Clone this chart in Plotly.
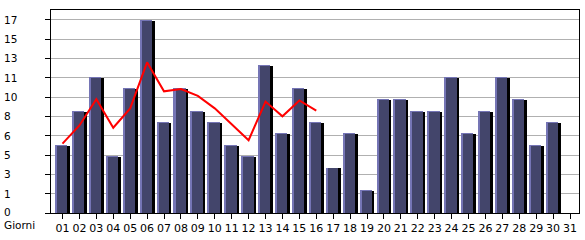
import plotly.graph_objects as go

days = ["01","02","03","04","05","06","07","08","09","10","11","12","13","14","15","16",
        "17","18","19","20","21","22","23","24","25","26","27","28","29","30","31"]
visits = [6, 9, 12, 5, 11, 17, 8, 11, 9, 8, 6, 5, 13, 7, 11, 8,
          4, 7, 2, 10, 10, 9, 9, 12, 7, 9, 12, 10, 6, 8, 0]
trend_days = days[:16]
trend = [6.1, 7.7, 10.0, 7.5, 9.2, 13.25, 10.7, 10.9, 10.3, 9.2, 7.8, 6.4, 9.8, 8.5, 9.9, 9.0]
y_tick_labels = ["0", "1", "3", "5", "6", "8", "10", "11", "13", "15", "17"]
y_tick_step = 1.7
x_title = "Giorni"

xs = list(range(1, len(days) + 1))
xt = [xs[days.index(d)] for d in trend_days]
yticks = [i * y_tick_step for i in range(len(y_tick_labels))]

FONT = "DejaVu Sans"
px = 17.85 / 210.0  # data units per pixel vertically

fig = go.Figure()
# black shadow
fig.add_trace(go.Bar(x=xs, y=[max(v - px, 0) for v in visits], width=0.74, offset=-0.30,
                     marker=dict(color="#000000", line=dict(width=0)), showlegend=False,
                     hoverinfo="skip"))
# lavender highlight
fig.add_trace(go.Bar(x=xs, y=visits, width=0.73, offset=-0.44,
                     marker=dict(color="#7575b5", line=dict(width=0)), showlegend=False))
# dark body
fig.add_trace(go.Bar(x=xs, y=[max(v - px, 0) for v in visits], width=0.61, offset=-0.32,
                     marker=dict(color="#43456b", line=dict(width=0)), showlegend=False,
                     hoverinfo="skip"))
fig.add_trace(go.Scatter(x=xt, y=trend, mode="lines",
                         line=dict(color="#ff0000", width=2), showlegend=False))

W, H = 585, 240
ml, mr, mt, mb = 51, 5, 10, 20
pw = W - ml - mr
ph = H - mt - mb

annotations = []
for v, t in zip(yticks, y_tick_labels):
    annotations.append(dict(x=(2 - ml) / pw, xref="paper", y=v, yref="y", text=t,
                            showarrow=False, xanchor="left", yanchor="middle",
                            yshift=1.5 if v == 0 else 0,
                            font=dict(family=FONT, size=10.5, color="#000")))
annotations.append(dict(x=(2 - ml) / pw, xref="paper", y=-(232.5 - (mt + ph)) / ph, yref="paper",
                        text=x_title, showarrow=False, xanchor="left", yanchor="middle",
                        font=dict(family=FONT, size=10.5, color="#000")))

fig.update_layout(
    width=W, height=H, margin=dict(l=ml, r=mr, t=mt, b=mb, pad=0),
    paper_bgcolor="white", plot_bgcolor="white", barmode="overlay", bargap=0,
    annotations=annotations,
    xaxis=dict(range=[0.32, 31.53], tickmode="array", tickvals=xs, ticktext=days,
               ticks="outside", ticklen=5, tickcolor="#000", tickwidth=1,
               showline=True, linecolor="#000", linewidth=1, mirror=True,
               showgrid=False, zeroline=False,
               tickfont=dict(family=FONT, size=11, color="#000")),
    yaxis=dict(range=[0, 17.85], tickmode="array", tickvals=yticks, ticktext=y_tick_labels,
               showticklabels=False, ticks="outside", ticklen=5, tickcolor="#000",
               showline=True, linecolor="#000", linewidth=1, mirror=True,
               showgrid=True, gridcolor="#b0b0b0", gridwidth=1, zeroline=False),
)

fig.write_html("out.html")
